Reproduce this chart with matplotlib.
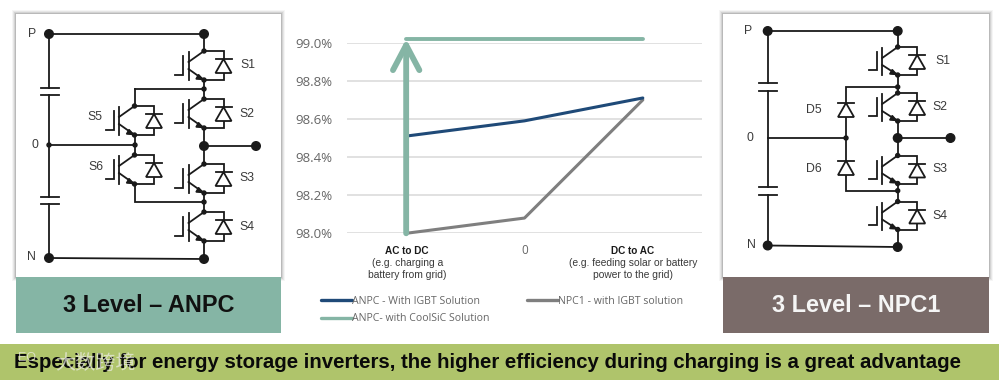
import matplotlib
matplotlib.use('Agg')
import matplotlib.pyplot as plt
from matplotlib.lines import Line2D
from matplotlib.patches import Rectangle, Polygon, Circle

W, H = 999, 382

categories = ['AC to DC', '0', 'DC to AC']
category_notes = ['(e.g. charging a\nbattery from grid)', '', '(e.g. feeding solar or battery\npower to the grid)']
anpc_igbt = [98.51, 98.59, 98.71]
npc1_igbt = [98.00, 98.08, 98.70]
anpc_coolsic = [99.02, 99.02, 99.02]
y_ticks = [98.0, 98.2, 98.4, 98.6, 98.8, 99.0]

series_names = ['ANPC - With IGBT Solution', 'ANPC- with CoolSiC Solution', 'NPC1 - with IGBT solution']
left_title = '3 Level – ANPC'
right_title = '3 Level – NPC1'
banner = 'Especially for energy storage inverters, the higher efficiency during charging is a great advantage'
watermark = '大数跨境'

GREEN = '#85B5A5'
BLUE = '#1F4A78'
GREY = '#7F7F7F'
BROWN = '#7A6B69'
OLIVE = '#AFC46B'
INK = '#1A1A1A'
LABEL = '#3A3A3A'
TICK = '#666666'

plt.rcParams['font.family'] = ['Liberation Sans', 'DejaVu Sans']

fig = plt.figure(figsize=(W / 100, H / 100), dpi=100)
bg = fig.add_axes([0, 0, 1, 1])
bg.set_xlim(0, W)
bg.set_ylim(H, 0)
bg.axis('off')


def wire(xs, ys):
    bg.plot(xs, ys, color=INK, lw=1.3, solid_capstyle='projecting', solid_joinstyle='miter', zorder=3)


def dot(x, y, r=4.3):
    bg.add_patch(Circle((x, y), r, color=INK, zorder=4))


def diode(x, top, bottom, half=8):
    bg.add_patch(Polygon([(x - half, bottom), (x + half, bottom), (x, top)], closed=True,
                         fc='white', ec=INK, lw=1.3, zorder=3))
    wire([x - half, x + half], [top, top])


def igbt(cx, cy, h=29):
    # collector at (cx, cy), emitter at (cx, cy + h)
    ey = cy + h
    bx = cx - 15.5
    wire([bx, bx], [cy + 1, ey])
    wire([cx - 29, cx - 21, cx - 21], [ey - 5, ey - 5, cy + 5])
    wire([bx, cx], [cy + 11, cy])
    wire([bx, cx], [cy + 18, ey])
    bg.add_patch(Polygon([(cx - 1, ey - 0.5), (cx - 8, ey - 1), (cx - 5.5, ey - 5.5)], closed=True,
                         color=INK, zorder=4))
    wire([cx, cx + 19.5, cx + 19.5, cx], [cy, cy, ey, ey])
    diode(cx + 19.5, cy + 8, cy + 22)
    dot(cx, cy, 2)
    dot(cx, ey, 2)


def capacitor(x, y1, y2, half=9):
    wire([x - half, x + half], [y1, y1])
    wire([x - half, x + half], [y2, y2])


def label(x, y, s):
    bg.text(x, y, s, ha='center', va='center', fontsize=8.8, color=LABEL, zorder=5)


def card(x0, x1, y0, y1, y2, color, title, tcolor):
    # soft shadow round the white card
    for grow, alpha in [(4, 0.04), (3, 0.06), (2, 0.08), (1, 0.12)]:
        bg.add_patch(Rectangle((x0 - grow, y0 - grow), x1 - x0 + 2 * grow, y1 - y0 + 2 * grow,
                               fc='black', ec='none', alpha=alpha, zorder=1))
    bg.add_patch(Rectangle((x0, y0), x1 - x0, y1 - y0, fc='white', ec='none', zorder=2))
    bg.add_patch(Rectangle((x0, y1), x1 - x0, y2 - y1, fc=color, ec='none', zorder=2))
    bg.text((x0 + x1) / 2, (y1 + y2) / 2 + 0.5, title, ha='center', va='center', fontsize=16.9,
            fontweight='bold', color=tcolor, zorder=5)


# left panel, ANPC
card(16, 281, 14, 277, 333, GREEN, left_title, '#111111')
wire([49, 204], [34, 34])
wire([49, 49], [34, 88])
wire([49, 49], [95, 197])
wire([49, 49], [204, 258])
capacitor(49.5, 88, 95)
capacitor(49.5, 197, 204)
wire([49, 204], [258, 259])
wire([49, 135], [145, 145])
wire([204, 204], [34, 51])
wire([204, 204], [80, 99])
wire([204, 204], [128, 164])
wire([204, 204], [193, 212])
wire([204, 204], [241, 259])
wire([134.5, 204], [89, 89])
wire([134.5, 134.5], [89, 106])
wire([134.5, 134.5], [135, 155])
wire([134.5, 134.5, 204], [184, 202, 202])
wire([204, 256], [146, 146])
for cy in [51, 99, 164, 212]:
    igbt(204, cy)
for cy in [106, 155]:
    igbt(134.5, cy)
for x, y in [(49, 34), (204, 34), (49, 258), (204, 259), (204, 146), (256, 146)]:
    dot(x, y)
for x, y in [(49, 145), (135, 145), (204, 89), (204, 202)]:
    dot(x, y, 2)
for x, y, s in [(32, 34, 'P'), (35, 145, '0'), (31, 257, 'N'), (248, 65, 'S1'), (247, 114, 'S2'),
                (247, 178, 'S3'), (247, 227, 'S4'), (95, 117, 'S5'), (96, 167, 'S6')]:
    label(x, y, s)

# right panel, NPC1
card(723, 989, 14, 277, 333, BROWN, right_title, '#F5F5F5')
PX, SX, DX = 767.7, 897.7, 846
wire([PX, SX], [31, 31])
wire([PX, PX], [31, 83])
wire([PX, PX], [91, 187])
wire([PX, PX], [195, 245.5])
capacitor(PX, 83.3, 90.7)
capacitor(PX, 187, 195)
wire([PX, SX], [245.5, 247])
wire([PX, DX], [138, 138])
wire([SX, SX], [31, 47])
wire([SX, SX], [75, 93])
wire([SX, SX], [121, 155.5])
wire([SX, SX], [183, 201.5])
wire([SX, SX], [229, 247])
wire([SX, DX, DX], [87, 87, 103])
wire([DX, DX], [117, 160.7])
wire([DX, DX, SX], [175, 190.7, 190.7])
wire([SX, 950.5], [138, 138])
diode(DX, 103, 117)
diode(DX, 160.7, 175)
for cy in [47, 93, 155.5, 201.5]:
    igbt(SX, cy, h=28)
for x, y in [(PX, 31), (SX, 31), (PX, 245.5), (SX, 247), (SX, 138), (950.5, 138)]:
    dot(x, y)
for x, y in [(DX, 138), (SX, 87), (SX, 190.7)]:
    dot(x, y, 2)
for x, y, s in [(748, 31, 'P'), (750, 138, '0'), (751, 245, 'N'), (943, 61, 'S1'), (940, 107, 'S2'),
                (940, 169, 'S3'), (940, 216, 'S4'), (814, 110, 'D5'), (814, 169, 'D6')]:
    label(x, y, s)

# banner
bg.add_patch(Rectangle((0, 344), W, 36, fc=OLIVE, ec='none', zorder=2))
bg.text(14, 362.5, banner, ha='left', va='center', fontsize=14.7, fontweight='bold', color='#0A0A0A', zorder=5)
bg.text(55, 363, watermark, ha='left', va='center', fontsize=14.5, color='#EDEDE6', alpha=0.7,
        family=['Noto Sans CJK SC', 'DejaVu Sans'], zorder=6)
bg.text(27, 358, 'EO', ha='center', va='center', fontsize=9, color='#EDEDE6', alpha=0.7, zorder=6)

# efficiency chart
ax = fig.add_axes([347 / W, 1 - 233.3 / H, 355 / W, 190.6 / H])
ax.patch.set_alpha(0)
x = range(len(categories))
ax.set_xlim(-0.5, 2.5)
ax.set_ylim(98.0, 99.0)
ax.plot(x, npc1_igbt, color=GREY, lw=2.2, solid_capstyle='round', clip_on=False, zorder=3)
ax.plot(x, anpc_igbt, color=BLUE, lw=2.2, solid_capstyle='round', clip_on=False, zorder=4)
ax.plot(x, anpc_coolsic, color=GREEN, lw=2.8, solid_capstyle='round', clip_on=False, zorder=5)
ax.annotate('', xy=(0, anpc_coolsic[0]), xytext=(0, npc1_igbt[0]), annotation_clip=False, zorder=5,
            arrowprops=dict(arrowstyle='->,head_length=1.8,head_width=0.95', mutation_scale=10,
                            color=GREEN, lw=4.2, shrinkA=0, shrinkB=0, capstyle='round'))
ax.set_yticks(y_ticks)
ax.set_yticklabels(['%.1f%%' % v for v in y_ticks], fontsize=9.5, color=TICK, family='Open Sans')
ax.set_xticks(list(x))
ax.set_xticklabels(['', categories[1], ''], fontsize=8.5, color=TICK, family='Open Sans')
ax.tick_params(length=0)
ax.tick_params(axis='y', pad=10.5)
ax.tick_params(axis='x', pad=8)
ax.grid(axis='y', color='#D9D9D9', lw=1.1)
ax.set_axisbelow(True)
for s in ax.spines.values():
    s.set_visible(False)

for i, dx in [(0, 0.7), (2, -7.2)]:
    ax.annotate(categories[i], xy=(i, 98.0), xytext=(dx, -12.5), textcoords='offset points',
                ha='center', va='center', fontsize=7.2, fontweight='bold', color=INK)
    ax.annotate(category_notes[i], xy=(i, 98.0), xytext=(dx, -26), textcoords='offset points',
                ha='center', va='center', fontsize=7.4, color=LABEL, linespacing=1.26)

handles = [Line2D([], [], color=c, lw=2.4, solid_capstyle='round') for c in [BLUE, GREEN, GREY]]
ax.legend(handles, series_names, ncol=2, frameon=False, loc='upper left',
          bbox_to_anchor=(321 / W, 1 - 295.5 / H), bbox_transform=fig.transFigure,
          handlelength=2.9, handletextpad=0.05, columnspacing=3.55, labelspacing=0.65, borderpad=0,
          borderaxespad=0, prop={'family': 'Open Sans', 'size': 7.6}, labelcolor=TICK)

fig.savefig('out.png', dpi=100)
